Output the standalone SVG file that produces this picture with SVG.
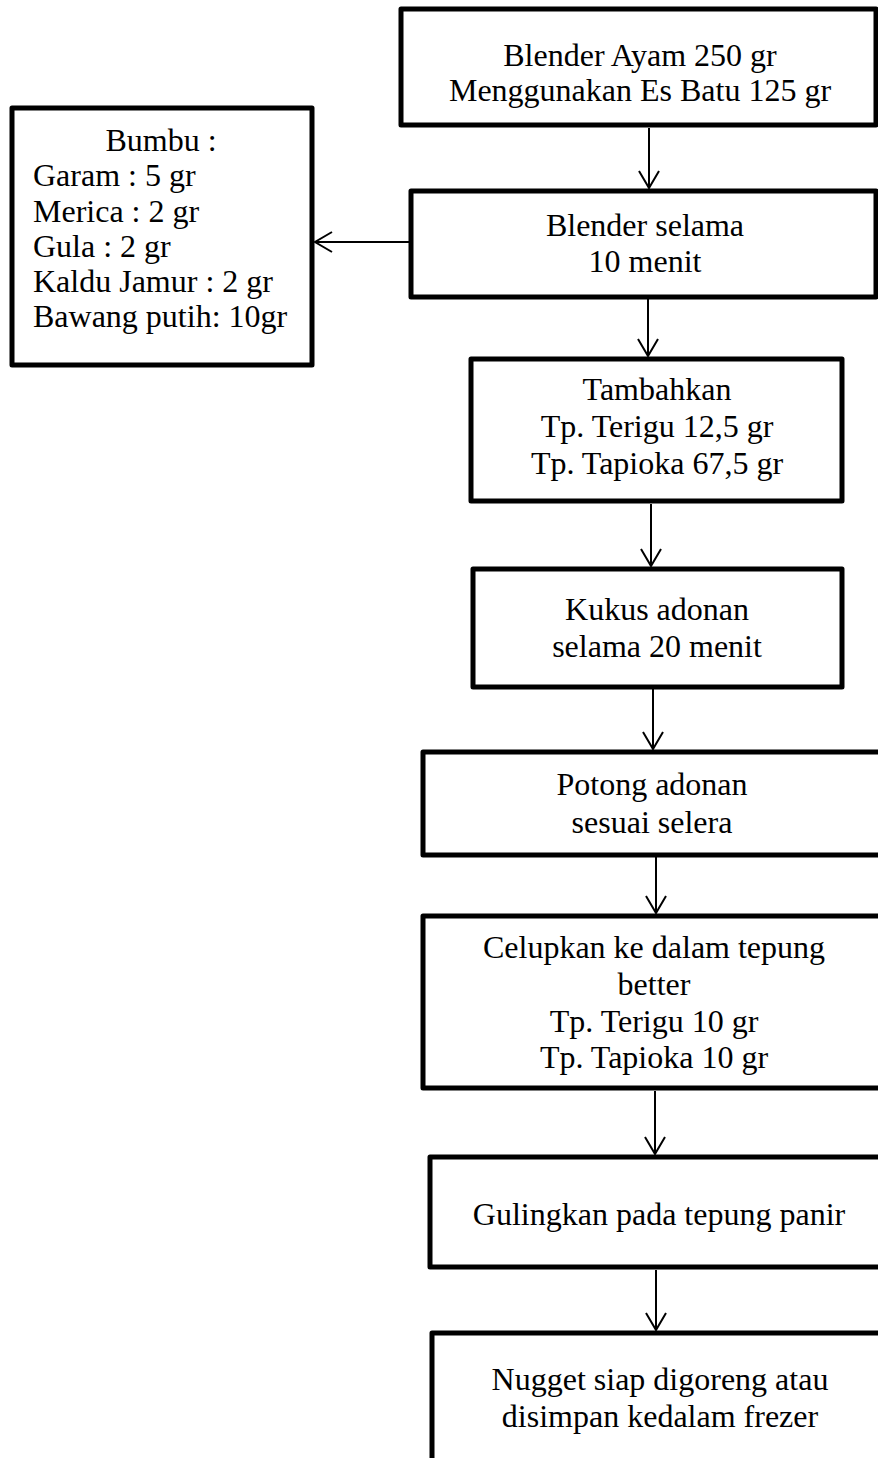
<svg xmlns="http://www.w3.org/2000/svg" width="878" height="1458" viewBox="0 0 878 1458">
<defs>
<style>
.box{fill:#fff;stroke:#000;stroke-width:5;stroke-linejoin:round}
.t{font-family:"Liberation Serif","Times New Roman",serif;font-size:32px;fill:#000}
.c{text-anchor:middle}
.ln{stroke:#000;stroke-width:2;fill:none}
</style>
<marker id="ah" markerWidth="20" markerHeight="24" refX="18" refY="11" orient="auto" markerUnits="userSpaceOnUse">
<path d="M1,1 L18,11 L1,21" fill="none" stroke="#000" stroke-width="2"/>
</marker>
</defs>
<rect width="878" height="1458" fill="#fff"/>
<g id="connectors">
<line class="ln" x1="649" y1="128" x2="649" y2="188" marker-end="url(#ah)"/>
<line class="ln" x1="409" y1="242" x2="315" y2="242" marker-end="url(#ah)"/>
<line class="ln" x1="648" y1="299" x2="648" y2="356" marker-end="url(#ah)"/>
<line class="ln" x1="651" y1="504" x2="651" y2="566" marker-end="url(#ah)"/>
<line class="ln" x1="653" y1="689" x2="653" y2="749" marker-end="url(#ah)"/>
<line class="ln" x1="656" y1="857" x2="656" y2="913" marker-end="url(#ah)"/>
<line class="ln" x1="655" y1="1091" x2="655" y2="1154" marker-end="url(#ah)"/>
<line class="ln" x1="656" y1="1270" x2="656" y2="1330" marker-end="url(#ah)"/>
</g>
<g id="n1">
<rect class="box" x="401" y="9" width="475" height="116"/>
<text class="t c" x="640" y="66">Blender Ayam 250 gr</text>
<text class="t c" x="640" y="101">Menggunakan Es Batu 125 gr</text>
</g>
<g id="bumbu">
<rect class="box" x="12" y="108" width="300" height="257"/>
<text class="t c" x="161" y="151">Bumbu :</text>
<text class="t" x="33" y="186">Garam : 5 gr</text>
<text class="t" x="33" y="221.5">Merica : 2 gr</text>
<text class="t" x="33" y="256.5">Gula : 2 gr</text>
<text class="t" x="33" y="291.5">Kaldu Jamur : 2 gr</text>
<text class="t" x="33" y="326.5">Bawang putih: 10gr</text>
</g>
<g id="n2">
<rect class="box" x="411" y="191" width="465" height="106"/>
<text class="t c" x="645" y="236">Blender selama</text>
<text class="t c" x="645" y="272">10 menit</text>
</g>
<g id="n3">
<rect class="box" x="471" y="359" width="371" height="142"/>
<text class="t c" x="657" y="400">Tambahkan</text>
<text class="t c" x="657" y="437">Tp. Terigu 12,5 gr</text>
<text class="t c" x="657" y="474">Tp. Tapioka 67,5 gr</text>
</g>
<g id="n4">
<rect class="box" x="473" y="569" width="369" height="118"/>
<text class="t c" x="657" y="620">Kukus adonan</text>
<text class="t c" x="657" y="657">selama 20 menit</text>
</g>
<g id="n5">
<rect class="box" x="423" y="752" width="480" height="103"/>
<text class="t c" x="652" y="795">Potong adonan</text>
<text class="t c" x="652" y="833">sesuai selera</text>
</g>
<g id="n6">
<rect class="box" x="423" y="916" width="480" height="172"/>
<text class="t c" x="654" y="958">Celupkan ke dalam tepung</text>
<text class="t c" x="654" y="995">better</text>
<text class="t c" x="654" y="1032">Tp. Terigu 10 gr</text>
<text class="t c" x="654" y="1068">Tp. Tapioka 10 gr</text>
</g>
<g id="n7">
<rect class="box" x="430" y="1157" width="480" height="110"/>
<text class="t c" x="659" y="1225">Gulingkan pada tepung panir</text>
</g>
<g id="n8">
<rect class="box" x="432" y="1333" width="480" height="200"/>
<text class="t c" x="660" y="1390">Nugget siap digoreng atau</text>
<text class="t c" x="660" y="1427">disimpan kedalam frezer</text>
</g>
</svg>
